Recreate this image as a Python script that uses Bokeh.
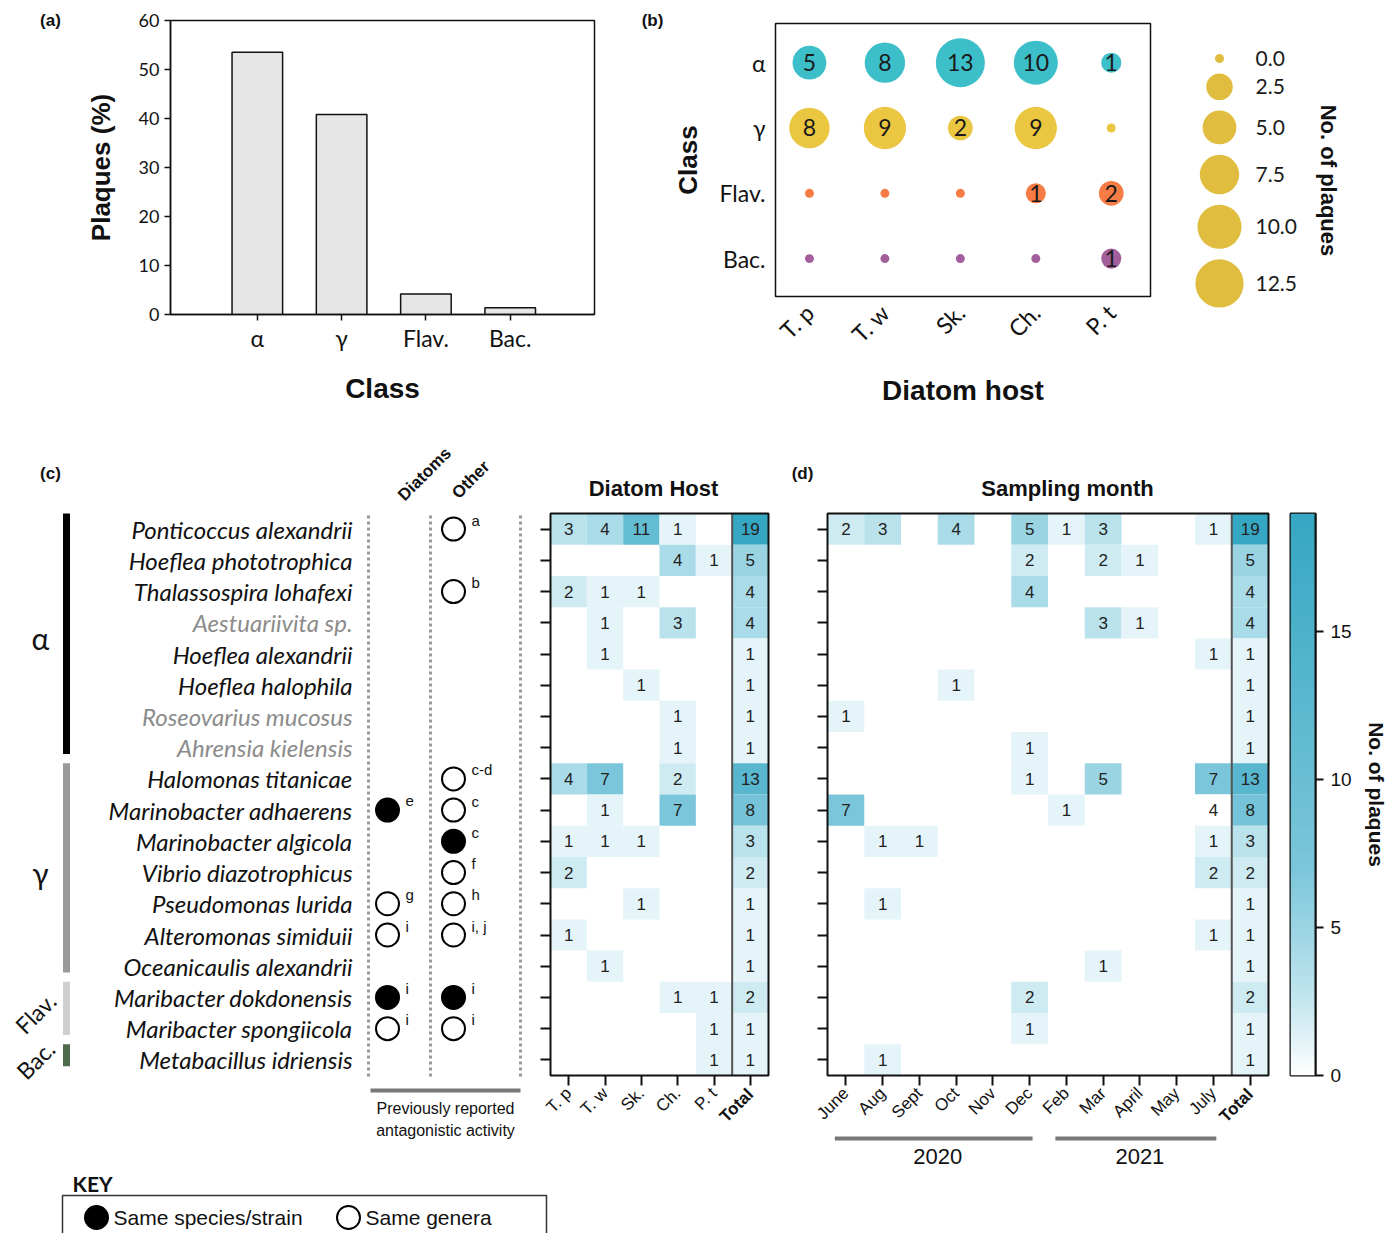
import numpy as np
from math import pi, sqrt
from bokeh.plotting import figure
from bokeh.models import (Range1d, FixedTicker, ColumnDataSource, LinearColorMapper, LinearAxis)
from bokeh.layouts import row, column
from bokeh.transform import transform
from bokeh.core.properties import value
from bokeh.embed import file_html
from bokeh.resources import INLINE

# ---------------- data ----------------
classes = ["α", "γ", "Flav.", "Bac."]
class_pct = [53.5, 40.8, 4.2, 1.4]

hosts = ["T. p", "T. w", "Sk.", "Ch.", "P. t"]
alpha_by_host = [5, 8, 13, 10, 1]
gamma_by_host = [8, 9, 2, 9, 0]
flav_by_host = [0, 0, 0, 1, 2]
bac_by_host = [0, 0, 0, 0, 1]
class_colors = ["#3dbfc9", "#ebc640", "#f67c46", "#a35f9c"]
legend_values = [0.0, 2.5, 5.0, 7.5, 10.0, 12.5]

species = ["Ponticoccus alexandrii", "Hoeflea phototrophica", "Thalassospira lohafexi",
           "Aestuariivita sp.", "Hoeflea alexandrii", "Hoeflea halophila",
           "Roseovarius mucosus", "Ahrensia kielensis", "Halomonas titanicae",
           "Marinobacter adhaerens", "Marinobacter algicola", "Vibrio diazotrophicus",
           "Pseudomonas lurida", "Alteromonas simiduii", "Oceanicaulis alexandrii",
           "Maribacter dokdonensis", "Maribacter spongiicola", "Metabacillus idriensis"]
species_class = ["α"] * 8 + ["γ"] * 7 + ["Flav."] * 2 + ["Bac."]
gray_species = ["Aestuariivita sp.", "Roseovarius mucosus", "Ahrensia kielensis"]
class_bar_colors = {"α": "#000000", "γ": "#9a9a9a", "Flav.": "#cfcfcf", "Bac.": "#4e6b4e"}

# previously reported antagonistic activity: (kind, reference)
diatom_marks = {"Marinobacter adhaerens": ("filled", "e"), "Pseudomonas lurida": ("open", "g"),
                "Alteromonas simiduii": ("open", "i"), "Maribacter dokdonensis": ("filled", "i"),
                "Maribacter spongiicola": ("open", "i")}
other_marks = {"Ponticoccus alexandrii": ("open", "a"), "Thalassospira lohafexi": ("open", "b"),
               "Halomonas titanicae": ("open", "c-d"), "Marinobacter adhaerens": ("open", "c"),
               "Marinobacter algicola": ("filled", "c"), "Vibrio diazotrophicus": ("open", "f"),
               "Pseudomonas lurida": ("open", "h"), "Alteromonas simiduii": ("open", "i, j"),
               "Maribacter dokdonensis": ("filled", "i"), "Maribacter spongiicola": ("open", "i")}

host_counts = [[3, 4, 11, 1, 0], [0, 0, 0, 4, 1], [2, 1, 1, 0, 0], [0, 1, 0, 3, 0],
               [0, 1, 0, 0, 0], [0, 0, 1, 0, 0], [0, 0, 0, 1, 0], [0, 0, 0, 1, 0],
               [4, 7, 0, 2, 0], [0, 1, 0, 7, 0], [1, 1, 1, 0, 0], [2, 0, 0, 0, 0],
               [0, 0, 1, 0, 0], [1, 0, 0, 0, 0], [0, 1, 0, 0, 0], [0, 0, 0, 1, 1],
               [0, 0, 0, 0, 1], [0, 0, 0, 0, 1]]
species_total = [19, 5, 4, 4, 1, 1, 1, 1, 13, 8, 3, 2, 1, 1, 1, 2, 1, 1]

months = ["June", "Aug", "Sept", "Oct", "Nov", "Dec", "Feb", "Mar", "April", "May", "July"]
month_year = ["2020"] * 6 + ["2021"] * 5
month_counts = [[2, 3, 0, 4, 0, 5, 1, 3, 0, 0, 1], [0, 0, 0, 0, 0, 2, 0, 2, 1, 0, 0],
                [0, 0, 0, 0, 0, 4, 0, 0, 0, 0, 0], [0, 0, 0, 0, 0, 0, 0, 3, 1, 0, 0],
                [0, 0, 0, 0, 0, 0, 0, 0, 0, 0, 1], [0, 0, 0, 1, 0, 0, 0, 0, 0, 0, 0],
                [1, 0, 0, 0, 0, 0, 0, 0, 0, 0, 0], [0, 0, 0, 0, 0, 1, 0, 0, 0, 0, 0],
                [0, 0, 0, 0, 0, 1, 0, 5, 0, 0, 7], [7, 0, 0, 0, 0, 0, 1, 0, 0, 0, 4],
                [0, 1, 1, 0, 0, 0, 0, 0, 0, 0, 1], [0, 0, 0, 0, 0, 0, 0, 0, 0, 0, 2],
                [0, 1, 0, 0, 0, 0, 0, 0, 0, 0, 0], [0, 0, 0, 0, 0, 0, 0, 0, 0, 0, 1],
                [0, 0, 0, 0, 0, 0, 0, 1, 0, 0, 0], [0, 0, 0, 0, 0, 2, 0, 0, 0, 0, 0],
                [0, 0, 0, 0, 0, 1, 0, 0, 0, 0, 0], [0, 1, 0, 0, 0, 0, 0, 0, 0, 0, 0]]
unshaded_cells = [("Marinobacter adhaerens", "July")]

# ---------------- styling helpers ----------------
LATO = "Lato"
ARIAL = "Liberation Sans"
INK = "#111111"


def txt(p, x, y, text, size, font=ARIAL, style="normal", align="center",
        baseline="middle", angle=0.0, color=INK):
    p.text(x=x, y=y, text=text, text_font=value(font), text_font_size=size,
           text_font_style=style, text_align=align, text_baseline=baseline,
           angle=angle, text_color=color)


def style_axis(ax, tick_out=6, width=1.5):
    ax.major_tick_in = 0
    ax.major_tick_out = tick_out
    ax.minor_tick_line_color = None
    ax.major_tick_line_width = width
    ax.major_tick_line_color = INK
    ax.axis_line_width = width
    ax.axis_line_color = INK
    ax.major_label_text_color = INK
    ax.axis_label_text_color = INK


def axis_fig(w, h, xr, yr, ml, mr, mt, mb, **kw):
    p = figure(width=w, height=h, x_range=xr, y_range=yr, title=None,
               min_border_left=ml, min_border_right=mr, min_border_top=mt, min_border_bottom=mb,
               output_backend="svg", toolbar_location=None, frame_align=False, **kw)
    p.grid.visible = False
    p.outline_line_color = INK
    p.outline_line_width = 1.5
    return p


def page_fig(w, h, x0, x1, y0, y1):
    p = figure(width=w, height=h, x_range=Range1d(x0, x1), y_range=Range1d(y0, y1),
               x_axis_location=None, y_axis_location=None, title=None,
               min_border_left=0, min_border_right=0, min_border_top=0, min_border_bottom=0,
               output_backend="svg", toolbar_location=None, frame_align=False)
    p.grid.visible = False
    p.outline_line_color = None
    return p


def bubble_size(v):
    return 9 + 11.1 * sqrt(v)


# ================= panel (a) =================
strip_a = page_fig(75, 430, 0, 75, -430, 0)
txt(strip_a, [50], [-20], ["(a)"], "17px", style="bold")

xa = list(range(1, len(classes) + 1))
pa = axis_fig(565, 430, Range1d(-0.03, 5.0), Range1d(0, 60), 95, 46, 20, 116)
pa.vbar(x=xa, top=class_pct, width=0.6, fill_color="#e6e6e6", line_color=INK, line_width=1.5)
style_axis(pa.xaxis[0])
style_axis(pa.yaxis[0])
pa.xaxis.ticker = FixedTicker(ticks=xa)
pa.xaxis.major_label_overrides = {x: c for x, c in zip(xa, classes)}
pa.xaxis.major_label_text_font = LATO
pa.xaxis.major_label_text_font_size = "23px"
pa.xaxis.major_label_standoff = 3
pa.yaxis.ticker = FixedTicker(ticks=list(range(0, 61, 10)))
pa.yaxis.major_label_text_font = LATO
pa.yaxis.major_label_text_font_size = "18px"
pa.xaxis.axis_label = "Class"
pa.yaxis.axis_label = "Plaques (%)"
for ax in (pa.xaxis[0], pa.yaxis[0]):
    ax.axis_label_text_font = ARIAL
    ax.axis_label_text_font_style = "bold"
    ax.axis_label_text_font_size = "28px"
pa.yaxis.axis_label_text_font_size = "26px"
pa.xaxis.axis_label_standoff = 18
pa.yaxis.axis_label_standoff = 20

# ================= panel (b) =================
strip_b = page_fig(24, 430, 640, 664, -430, 0)
txt(strip_b, [652], [-20], ["(b)"], "17px", style="bold")

pb = axis_fig(516, 430, Range1d(0.55, 5.52), Range1d(0.42, 4.6), 111, 30, 23, 134)
bx, by, bv, bs, bc = [], [], [], [], []
for i, counts in enumerate([alpha_by_host, gamma_by_host, flav_by_host, bac_by_host]):
    for j, v in enumerate(counts):
        bx.append(j + 1)
        by.append(len(classes) - i)
        bv.append(v)
        bs.append(bubble_size(v))
        bc.append(class_colors[i])
bsrc = ColumnDataSource(dict(x=bx, y=by, v=bv, size=bs, color=bc,
                             label=[str(v) if v > 0 else "" for v in bv]))
pb.scatter(x="x", y="y", size="size", fill_color="color", line_color=None, source=bsrc)
pb.text(x="x", y="y", text="label", source=bsrc, text_align="center", text_baseline="middle",
        text_font=value(LATO), text_font_size="23px", text_color="#1a1a1a")
style_axis(pb.xaxis[0], tick_out=0)
style_axis(pb.yaxis[0], tick_out=0)
pb.xaxis.axis_line_color = None
pb.yaxis.axis_line_color = None
pb.xaxis.ticker = FixedTicker(ticks=list(range(1, len(hosts) + 1)))
pb.xaxis.major_label_overrides = {j + 1: h for j, h in enumerate(hosts)}
pb.xaxis.major_label_orientation = pi / 4
pb.xaxis.major_label_standoff = 12
pb.yaxis.ticker = FixedTicker(ticks=list(range(1, len(classes) + 1)))
pb.yaxis.major_label_overrides = {len(classes) - i: c for i, c in enumerate(classes)}
pb.yaxis.major_label_standoff = 10
for ax in (pb.xaxis[0], pb.yaxis[0]):
    ax.major_label_text_font = LATO
    ax.major_label_text_font_size = "23px"
    ax.axis_label_text_font = ARIAL
    ax.axis_label_text_font_style = "bold"
    ax.axis_label_text_font_size = "28px"
pb.xaxis.axis_label = "Diatom host"
pb.yaxis.axis_label = "Class"
pb.yaxis.axis_label_text_font_size = "26px"
pb.xaxis.axis_label_standoff = 14
pb.yaxis.axis_label_standoff = 14

# bubble size legend
lb = page_fig(217, 430, 1180, 1397, -430, 0)
ly, cur = [], 58.0
for k, v in enumerate(legend_values):
    if k > 0:
        cur += (bubble_size(legend_values[k - 1]) + bubble_size(v)) / 2 + 10.5
    ly.append(-cur)
lsrc = ColumnDataSource(dict(x=[1219] * len(legend_values), y=ly,
                             size=[bubble_size(v) for v in legend_values],
                             tx=[1255] * len(legend_values),
                             label=["%.1f" % v for v in legend_values]))
lb.scatter(x="x", y="y", size="size", fill_color="#e0bd3e", line_color=None, source=lsrc)
lb.text(x="tx", y="y", text="label", source=lsrc, text_align="left", text_baseline="middle",
        text_font=value(LATO), text_font_size="21px", text_color="#1a1a1a")
txt(lb, [1328], [-180], ["No. of plaques"], "22px", style="bold", angle=-pi / 2)

# ================= panel (c) / (d) shared geometry =================
NR = len(species)
ROWH = 562.0 / NR
Y_TOP, Y_BOT = 430, 1169


def ry(py):
    return (NR - 0.5) - (py - 513) / ROWH


row_y = [NR - 1 - k for k in range(NR)]

# palette for the heat maps
stops = [0, 1, 3, 7, 19]
stop_cols = ["#ffffff", "#e4f4f8", "#b9e2ec", "#7bc6da", "#36a7c3"]
rgb = np.array([[int(c[i:i + 2], 16) for i in (1, 3, 5)] for c in stop_cols], dtype=float)
palette = []
for t in np.linspace(0, 19, 191):
    r, g, b = (np.interp(t, stops, rgb[:, ch]) for ch in range(3))
    palette.append("#%02x%02x%02x" % (int(round(r)), int(round(g)), int(round(b))))
cmap = LinearColorMapper(palette=palette, low=0, high=19)

# ---------- left annotation column of (c) ----------
cl = page_fig(526, Y_BOT - Y_TOP, 0, 526, ry(Y_BOT), ry(Y_TOP))
cl.segment(x0=[368, 430, 520], y0=[ry(515)] * 3, x1=[368, 430, 520], y1=[ry(1077)] * 3,
           line_color="#9a9a9a", line_width=3, line_dash="3 3")
groups = []
for k, c in enumerate(species_class):
    if not groups or groups[-1][0] != c:
        groups.append([c, k, k])
    else:
        groups[-1][2] = k
cl.quad(left=[62.5] * len(groups), right=[69.5] * len(groups),
        top=[NR - 0.5 - g[1] for g in groups], bottom=[NR - 0.5 - g[2] - 1 + 0.3 for g in groups],
        fill_color=[class_bar_colors[g[0]] for g in groups], line_color=None)
for g in groups:
    yc = NR - 0.5 - (g[1] + g[2] + 1) / 2.0
    if g[2] - g[1] >= 3:
        txt(cl, [40], [yc], [g[0]], "30px", font=LATO)
    else:
        txt(cl, [35], [yc], [g[0]], "23px", font=LATO, angle=pi / 4)
cl.text(x=[352] * NR, y=row_y, text=species, text_align="right", text_baseline="middle",
        text_font=value(LATO), text_font_style="italic", text_font_size="24px",
        text_color=["#8c8c8c" if s in gray_species else INK for s in species])
for colx, marks in ((387, diatom_marks), (453, other_marks)):
    mx, my, mf, rx, rtxt = [], [], [], [], []
    for k, s in enumerate(species):
        if s in marks:
            kind, ref = marks[s]
            mx.append(colx)
            my.append(row_y[k])
            mf.append("#000000" if kind == "filled" else "#ffffff")
            rx.append(colx + 18)
            rtxt.append(ref)
    cl.scatter(x=mx, y=my, size=23, fill_color=mf, line_color="#000000", line_width=2)
    txt(cl, rx, [v + 9 / ROWH for v in my], rtxt, "15px", align="left")
txt(cl, [407, 461], [ry(504), ry(502)], ["Diatoms", "Other"], "17px", style="bold",
    align="left", baseline="bottom", angle=pi / 4)
cl.segment(x0=[370], y0=[ry(1090)], x1=[520], y1=[ry(1090)], line_color="#777777", line_width=4)
txt(cl, [445, 445], [ry(1108), ry(1130)], ["Previously reported", "antagonistic activity"], "16px")
txt(cl, [50], [ry(473)], ["(c)"], "17px", style="bold")


def heat_fig(px0, px1, frame_left, colw, cols, matrix, totals, title, title_px, unshaded):
    nc = len(cols) + 1
    x0 = -0.5 + (px0 - frame_left) / colw
    x1 = -0.5 + (px1 - frame_left) / colw
    p = page_fig(px1 - px0, Y_BOT - Y_TOP, x0, x1, ry(Y_BOT), ry(Y_TOP))
    hx, hy, hv, hs = [], [], [], []
    for k in range(NR):
        for j in range(nc):
            v = matrix[k][j] if j < nc - 1 else totals[k]
            if v > 0:
                hx.append(j)
                hy.append(row_y[k])
                hv.append(str(v))
                col_name = cols[j] if j < nc - 1 else "Total"
                hs.append(0 if (species[k], col_name) in unshaded else v)
    src = ColumnDataSource(dict(x=hx, y=hy, label=hv, shade=hs))
    p.rect(x="x", y="y", width=1, height=1, source=src,
           fill_color=transform("shade", cmap), line_color=None)
    p.text(x="x", y="y", text="label", source=src, text_align="center",
           text_baseline="middle", text_font=value(ARIAL), text_font_size="17px",
           text_color="#222222")
    # total separator and heat-map box
    p.segment(x0=[nc - 1.5], y0=[-0.5], x1=[nc - 1.5], y1=[NR - 0.5],
              line_color="#555555", line_width=2)
    p.quad(left=[-0.5], right=[nc - 0.5], bottom=[-0.5], top=[NR - 0.5],
           fill_color=None, line_color=INK, line_width=2)
    xax = LinearAxis(fixed_location=-0.5)
    yax = LinearAxis(fixed_location=-0.5)
    p.add_layout(xax, "below")
    p.add_layout(yax, "left")
    style_axis(xax, tick_out=10, width=2)
    style_axis(yax, tick_out=10, width=2)
    xax.axis_line_color = None
    yax.axis_line_color = None
    yax.ticker = FixedTicker(ticks=list(range(NR)))
    yax.major_label_overrides = {i: "" for i in range(NR)}
    yax.major_label_text_font_size = "1px"
    xax.ticker = FixedTicker(ticks=list(range(nc)))
    ov = {j: c for j, c in enumerate(cols)}
    ov[nc - 1] = ""
    xax.major_label_overrides = ov
    xax.major_label_orientation = pi / 4
    xax.major_label_text_font = ARIAL
    xax.major_label_text_font_size = "17px"
    txt(p, [nc - 1], [ry(1091)], ["Total"], "17px", style="bold", align="right", angle=pi / 4)
    txt(p, [-0.5 + (title_px - frame_left) / colw], [ry(488)], [title], "22px", style="bold")
    return p


pc = heat_fig(526, 790, 550, 218 / 6.0, hosts, host_counts, species_total,
              "Diatom Host", 653, [])
DCW = 441 / 12.0
pd = heat_fig(790, 1280, 827, DCW, months, month_counts, species_total,
              "Sampling month", 1067, unshaded_cells)
txt(pd, [-0.5 + (802 - 827) / DCW], [ry(473)], ["(d)"], "17px", style="bold")

# year brackets under the month axis
years = []
for j, yv in enumerate(month_year):
    if not years or years[-1][0] != yv:
        years.append([yv, j, j])
    else:
        years[-1][2] = j
pd.segment(x0=[g[1] - 0.3 for g in years], x1=[g[2] + 0.08 for g in years],
           y0=[ry(1138)] * len(years), y1=[ry(1138)] * len(years),
           line_color="#777777", line_width=4)
txt(pd, [(g[1] + g[2]) / 2.0 for g in years], [ry(1156)] * len(years),
    [g[0] for g in years], "22px")

# colour bar
pcb = axis_fig(117, Y_BOT - Y_TOP, Range1d(0, 1), Range1d(0, 19), 10, 82, 83, 94,
               x_axis_location=None, y_axis_location="right")
pcb.outline_line_width = 2
pcb.image(image=[np.linspace(0, 19, 256).reshape(-1, 1)], x=0, y=0, dw=1, dh=19,
          color_mapper=cmap)
style_axis(pcb.yaxis[0], tick_out=8, width=2)
pcb.yaxis.ticker = FixedTicker(ticks=[0, 5, 10, 15])
pcb.yaxis.major_label_text_font = ARIAL
pcb.yaxis.major_label_text_font_size = "19px"
pcb.yaxis.major_label_standoff = 7
pcb.yaxis.axis_label = "No. of plaques"
pcb.yaxis.axis_label_text_font = ARIAL
pcb.yaxis.axis_label_text_font_style = "bold"
pcb.yaxis.axis_label_text_font_size = "21px"
pcb.yaxis.axis_label_standoff = 10

# key strip
KEY_BOT = 1233
key = page_fig(1397, KEY_BOT - Y_BOT, 0, 1397, -KEY_BOT, -Y_BOT)
key.quad(left=[62], right=[546], top=[-1195], bottom=[-1300], fill_color=None,
         line_color="#333333", line_width=1.5)
txt(key, [72], [-1183], ["KEY"], "21px", font=LATO, style="bold", align="left")
key.scatter(x=[96, 348], y=[-1217, -1217], size=23, fill_color=["#000000", "#ffffff"],
            line_color="#000000", line_width=2)
txt(key, [113, 365], [-1217, -1217], ["Same species/strain", "Same genera"], "21px", align="left")

layout = column(row(strip_a, pa, strip_b, pb, lb), row(cl, pc, pd, pcb), key)
open("out.html", "w").write(file_html(layout, INLINE))
